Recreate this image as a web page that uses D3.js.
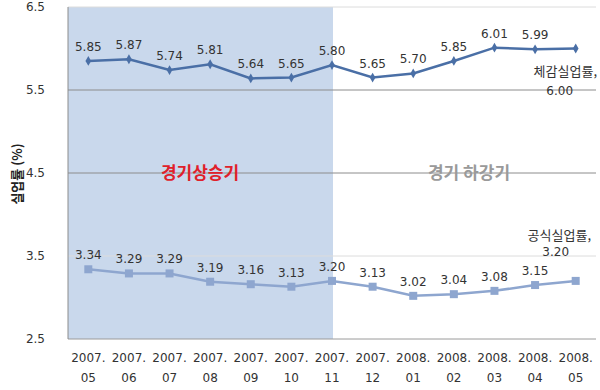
<!DOCTYPE html>
<html><head><meta charset="utf-8">
<script src="https://cdn.jsdelivr.net/npm/d3@7/dist/d3.min.js"></script>
<style>body{margin:0;background:#fff}svg text{font-family:"Noto Sans CJK KR","Noto Sans",sans-serif}</style>
</head><body><svg id="c" width="600" height="390"></svg>
<script>
const categories = ["2007.05","2007.06","2007.07","2007.08","2007.09","2007.10","2007.11","2007.12","2008.01","2008.02","2008.03","2008.04","2008.05"];
const perceived = [5.85,5.87,5.74,5.81,5.64,5.65,5.80,5.65,5.70,5.85,6.01,5.99,6.00];
const official = [3.34,3.29,3.29,3.19,3.16,3.13,3.20,3.13,3.02,3.04,3.08,3.15,3.20];
const yTicks = [2.5,3.5,4.5,5.5,6.5];
const seriesNames = ["체감실업률,","공식실업률,"];
const phaseLabels = ["경기상승기","경기 하강기"];
const yTitle = "실업률 (%)";

const svg = d3.select("#c");
const m = {l:68, r:596, t:7, b:339};
const x = d3.scalePoint().domain(categories).range([m.l, m.r]).padding(0.5);
const y = d3.scaleLinear().domain([2.5,6.5]).range([m.b, m.t]);

// shaded expansion period
svg.append("rect").attr("x", m.l).attr("y", m.t)
  .attr("width", x("2007.11") + 1 - m.l).attr("height", m.b - m.t)
  .attr("fill", "#c9d8ec");

// gridlines
const gridColor = {2.5:"#9a9a9a",3.5:"#dcdcdc",4.5:"#8c8c8c",5.5:"#8c8c8c",6.5:"#dcdcdc"};
svg.append("g").selectAll("line").data(yTicks).join("line")
  .attr("x1", m.l).attr("x2", m.r).attr("y1", d=>y(d)).attr("y2", d=>y(d))
  .attr("stroke", d=>gridColor[d]).attr("stroke-width",1);
svg.append("line").attr("x1",m.l).attr("x2",m.l).attr("y1",m.t).attr("y2",m.b).attr("stroke","#8c8c8c");

// y axis labels
const yAxis = d3.axisLeft(y).tickValues(yTicks).tickFormat(d3.format(".1f")).tickSize(0).tickPadding(0);
const ya = svg.append("g").attr("transform", `translate(45,0)`).call(yAxis);
ya.select(".domain").remove();
ya.selectAll("text").attr("font-size", 12).attr("fill","#333").style("font-family","'DejaVu Sans',sans-serif");

// y title
svg.append("text").attr("transform", `translate(22,174) rotate(-90)`).attr("text-anchor","middle")
  .attr("font-size",13).attr("font-weight","bold").attr("fill","#222").text(yTitle);

// x labels
const xg = svg.append("g");
categories.forEach(c=>{
  const [yr, mo] = c.split(".");
  const t = xg.append("text").attr("x", x(c)).attr("text-anchor","middle").attr("font-size",12).attr("fill","#333")
    .style("font-family","'DejaVu Sans',sans-serif");
  t.append("tspan").attr("x", x(c)).attr("y", 362).text(yr + ".");
  t.append("tspan").attr("x", x(c)).attr("y", 382).text(mo);
});

// lines
const line = d3.line().x((d,i)=>x(categories[i])).y(d=>y(d));
svg.append("path").datum(perceived).attr("d", line).attr("fill","none").attr("stroke","#4a6fa6").attr("stroke-width",2.5);
svg.append("path").datum(official).attr("d", line).attr("fill","none").attr("stroke","#8ea6cf").attr("stroke-width",2.5);

// markers
svg.append("g").selectAll("path").data(perceived).join("path")
  .attr("d", d3.symbol().type(d3.symbolDiamond).size(28))
  .attr("transform",(d,i)=>`translate(${x(categories[i])},${y(d)})`).attr("fill","#4a6fa6");
svg.append("g").selectAll("rect").data(official).join("rect")
  .attr("x",(d,i)=>x(categories[i])-4).attr("y",d=>y(d)-4).attr("width",8).attr("height",8).attr("fill","#8ea6cf");

// data labels
const lbl = (data, dy) => svg.append("g").selectAll("text").data(data).join("text")
  .attr("x",(d,i)=>x(categories[i])).attr("y",d=>y(d)+dy).attr("text-anchor","middle")
  .attr("font-size",12).attr("fill","#333").style("font-family","'DejaVu Sans',sans-serif")
  .text(d=>d.toFixed(2));
lbl(perceived.slice(0,12), -10);
lbl(official.slice(0,12), -10);

// series name labels (with last value)
const last = categories.length-1;
svg.append("text").attr("x", 597).attr("y", y(perceived[last])+27).attr("text-anchor","end")
  .attr("font-size",13).attr("fill","#333").text(seriesNames[0]);
svg.append("text").attr("x", x(categories[last])-16).attr("y", y(perceived[last])+46).attr("text-anchor","middle")
  .attr("font-size",12).attr("fill","#333").style("font-family","'DejaVu Sans',sans-serif").text(perceived[last].toFixed(2));
svg.append("text").attr("x", 591).attr("y", y(official[last])-41).attr("text-anchor","end")
  .attr("font-size",13).attr("fill","#333").text(seriesNames[1]);
svg.append("text").attr("x", x(categories[last])-20).attr("y", y(official[last])-25).attr("text-anchor","middle")
  .attr("font-size",12).attr("fill","#333").style("font-family","'DejaVu Sans',sans-serif").text(official[last].toFixed(2));

// phase labels
svg.append("text").attr("x", 200).attr("y", 179).attr("text-anchor","middle")
  .attr("font-size",17).attr("font-weight","bold").attr("fill","#e0202a").text(phaseLabels[0]);
svg.append("text").attr("x", 469).attr("y", 179).attr("text-anchor","middle")
  .attr("font-size",17).attr("font-weight","bold").attr("fill","#9a9a9a").text(phaseLabels[1]);
</script></body></html>
